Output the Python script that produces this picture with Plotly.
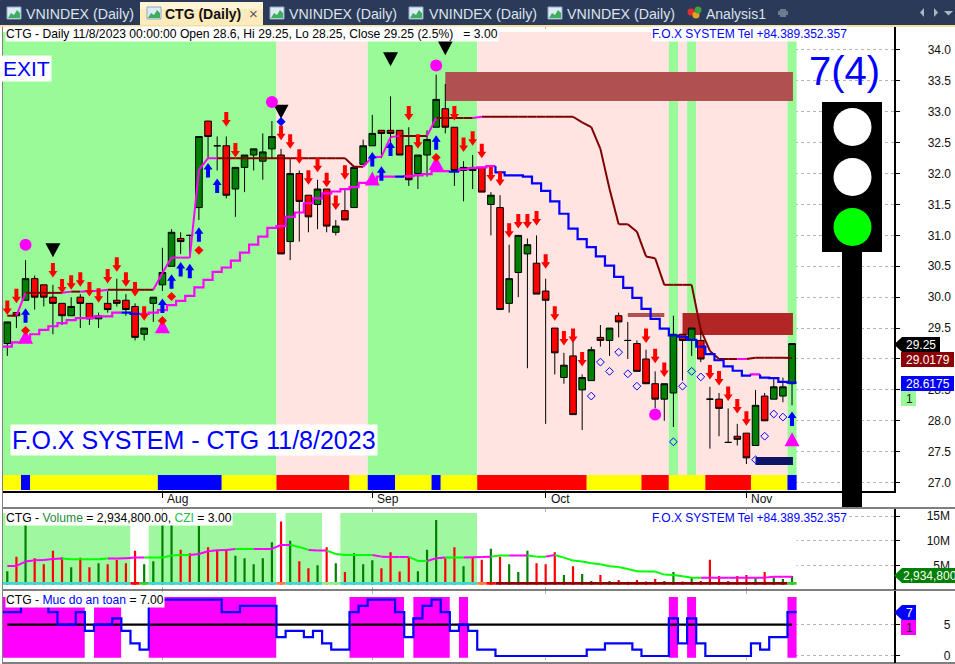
import plotly.graph_objects as go

W, H = 955, 664

# ---------- data ----------
opens = [29.25,29.75,29.95,30.3,30.2,30.0,29.9,29.7,30.0,29.9,29.65,29.9,29.95,29.95,29.85,29.4,29.9,30.2,30.5,30.95,31.0,31.45,32.85,32.45,32.45,31.75,32.1,32.3,32.2,32.4,
         32.3,30.9,32.0,31.65,31.5,31.75,31.05,31.4,31.45,32.15,32.45,32.7,32.7,32.7,32.45,32.0,32.3,32.75,33.05,32.75,32.05,32.1,32.1,31.5,31.45,29.9,30.4,30.7,30.55,30.1,
         29.5,28.7,29.05,28.5,28.65,29.35,29.3,29.7,29.3,29.25,29.0,28.6,28.35,28.45,29.4,29.3,29.3,28.35,28.35,27.65,27.75,27.8,27.6,28.4,28.35,28.4,28.6]
highs = [29.6,29.75,30.6,30.35,30.2,30.2,29.9,30.0,30.05,29.9,29.75,30.1,30.3,30.05,29.9,29.5,30.0,30.8,31.1,31.05,31.0,32.6,32.85,32.6,32.6,32.1,32.3,32.4,32.65,32.85,
         32.4,32.25,32.05,31.65,31.9,31.75,31.25,31.75,32.1,32.55,32.95,32.7,33.25,32.7,32.75,32.3,32.7,33.6,33.45,32.75,32.2,32.3,32.1,31.7,31.65,30.85,31.0,30.95,31.0,30.3,
         29.5,29.1,29.3,28.75,29.2,29.55,29.5,29.75,29.6,29.3,29.15,28.8,28.6,29.7,29.4,29.5,29.5,28.55,28.45,28.2,27.95,27.8,28.5,28.45,28.7,28.7,29.25]
lows = [29.05,29.5,29.95,29.8,29.85,29.4,29.55,29.7,29.5,29.55,29.5,29.75,29.85,29.7,29.3,29.3,29.6,30.1,30.5,30.7,30.65,31.25,32.25,32.05,31.6,31.3,31.7,32.05,31.9,32.25,
        30.7,30.6,30.9,31.05,31.1,31.05,31.0,31.25,31.45,32.15,32.45,32.25,32.45,32.3,31.8,31.75,31.95,32.75,32.65,31.8,31.55,31.75,31.7,31.0,29.8,29.75,30.0,28.85,30.05,27.95,
        28.75,28.6,28.1,27.85,28.65,29.2,29.05,29.35,29.0,28.8,28.6,28.2,28.0,27.9,28.65,29.05,28.95,27.55,27.75,27.65,27.6,27.3,27.6,28.0,28.35,28.3,28.25]
closes = [29.6,29.7,30.3,30.0,30.0,29.9,29.7,29.85,29.9,29.65,29.7,29.8,29.9,29.8,29.35,29.5,30.0,30.4,31.05,30.9,31.0,32.6,32.6,32.45,31.65,32.1,32.3,32.4,32.35,32.6,
          30.7,32.0,31.55,31.3,31.75,31.15,31.15,31.25,32.1,32.45,32.65,32.65,32.65,32.3,31.9,32.3,32.55,33.2,32.75,32.05,32.1,32.05,31.7,31.65,29.8,30.3,31.0,30.85,30.05,29.95,
          29.1,28.9,28.1,28.7,29.15,29.3,29.5,29.6,29.3,28.8,28.6,28.35,28.6,29.4,29.3,29.5,29.0,28.35,28.2,27.65,27.7,27.4,28.25,28.0,28.55,28.55,29.25]
bars = list(range(len(closes)))

upper_line = [29.7,29.7,30.07,30.07,30.07,30.07,30.07,30.09,30.09,30.1,30.1,30.12,30.12,30.12,30.12,30.12,30.12,30.39,30.64,30.64,30.64,32.06,32.25,32.25,32.25,32.25,32.25,32.25,32.25,32.25,
              32.25,32.25,32.25,32.25,32.25,32.25,32.25,32.25,32.11,32.11,32.27,32.27,32.59,32.61,32.61,32.61,32.61,32.9,32.9,32.9,32.9,32.9,32.92,32.92,32.92,32.92,32.92,32.92,32.92,32.92,
              32.92,32.92,32.92,32.83,32.75,32.4,31.75,31.18,31.18,31.06,30.66,30.63,30.2,30.2,30.2,30.2,29.47,29.13,29.0,29.0,29.0,29.0,29.02,29.02,29.02,29.02,29.0179]
upper_magenta = [2,7,9,10,11,17,18,19,20,21,22,23,40,41,42,43,47,52,81]

lower_line = [29.2,29.27,29.3,29.4,29.47,29.53,29.58,29.63,29.66,29.66,29.69,29.69,29.75,29.75,29.73,29.73,29.75,29.79,29.87,29.94,30.02,30.16,30.28,30.41,30.48,30.59,30.72,30.85,30.98,31.12,
              31.15,31.3,31.37,31.52,31.6,31.68,31.71,31.75,31.78,31.85,31.87,31.95,31.95,31.95,31.96,31.97,31.99,32.04,32.04,32.03,32.07,32.09,32.1,32.12,32.02,31.97,31.97,31.95,31.84,31.72,
              31.55,31.35,31.11,30.94,30.81,30.66,30.51,30.33,30.15,29.99,29.81,29.65,29.49,29.38,29.36,29.31,29.2,29.08,28.98,28.88,28.81,28.73,28.75,28.7,28.69,28.63,28.6175]
lower_blue = [13,14,43,49] + [i for i in range(54, 87) if i != 82]

band_state = "G"*30 + "P"*10 + "G"*12 + "P"*21 + "G" + "P" + "G" + "P"*10 + "G"
ribbon_state = "YY" + "B" + "Y"*14 + "B"*7 + "Y"*6 + "R"*8 + "Y"*2 + "B"*3 + "Y"*4 + "B" + "Y"*4 + "R"*12 + "Y"*6 + "R"*3 + "Y"*4 + "R"*5 + "Y"*4 + "B"

sell_bars = [0,1,5,6,7,8,9,10,11,12,13,14,15,24,25,30,31,32,33,34,35,36,37,44,45,49,50,51,52,53,54,55,56,57,58,59,60,61,62,63,70,71,72,77,78,79,80,81]
sell_tips = [29.71,29.9,30.32,30.06,30.12,30.17,30.01,29.91,30.22,30.41,30.17,30.01,29.62,32.76,32.26,32.54,32.4,32.16,31.82,32.02,31.78,31.41,31.9,32.86,32.4,32.86,32.35,32.45,32.25,31.87,31.8,30.96,31.11,31.11,31.16,30.46,29.62,29.22,29.26,28.88,29.26,28.93,28.71,28.67,28.57,28.32,28.12,27.92]
buy_bars = [2,17,18,19,20,21,22,23,40,41,42,47,86]
buy_tips = [29.82,29.98,30.37,30.57,30.54,31.13,32.17,31.92,32.35,32.12,32.52,32.62,28.15]
circle_bars = [2,29,47,71]
circle_vals = [30.85,33.16,33.75,28.1]
tri_up_bars = [2,17,40,47,86]
tri_up_vals = [29.36,29.53,31.92,32.17,27.7]
tri_down_bars = [5,30,42,48]
tri_down_vals = [30.76,33.0,33.85,34.03]
dot_red_bars = [2,17,18,21,47]
dot_red_vals = [29.46,29.62,30.01,30.76,32.26]
dot_blue_bars = [30]
dot_blue_vals = [32.84]
hollow_bars = [64,65,66,67,68,69,73,74,75,76,82,83,84,85]
hollow_vals = [28.4,28.95,28.8,29.11,28.76,28.56,27.66,28.56,28.8,28.71,27.37,27.75,28.11,28.06]
zone_from = [48,74,68,82]
zone_to = [86.1,86.1,72,86.1]
zone_hi = [33.644,29.744,29.744,27.414]
zone_lo = [33.175,29.388,29.68,27.285]
zone_col = ["#B05050","#B22626","#B05050","#0E1466"]

volume = [3.9,6.8,13.2,6.5,5.3,8.0,6.7,4.7,6.6,4.7,5.5,5.3,6.2,5.5,8.0,5.3,5.9,13.2,13.2,8.2,7.5,13.0,8.7,8.2,8.3,7.0,6.5,5.3,6.5,9.7,
          13.9,10.0,5.9,4.5,5.1,8.7,5.5,3.7,7.5,5.3,6.1,4.5,7.7,3.8,6.8,3.9,8.2,14.2,6.5,8.7,4.9,6.7,6.2,8.4,6.8,5.3,3.7,8.0,5.5,5.3,
          7.7,3.1,4.9,3.3,1.9,3.1,1.9,2.1,1.75,2.1,1.8,2.3,1.9,3.7,1.8,2.6,1.9,6.2,2.9,1.9,2.9,3.1,2.5,3.7,2.6,2.3,2.9348]
volume_ma = [4.94,4.94,5.82,6.08,6.15,6.35,6.42,6.29,6.29,6.29,6.29,6.42,6.42,6.49,6.62,6.62,6.62,6.62,7.03,7.16,7.16,7.36,7.9,8.1,8.17,8.37,8.37,8.37,8.37,8.37,
             9.18,9.18,8.77,8.17,8.03,8.03,7.36,7.16,7.16,7.16,7.16,6.82,6.76,6.76,6.76,5.95,5.95,6.49,6.62,6.62,6.62,6.69,6.76,6.82,7.03,7.03,7.03,7.03,6.82,6.82,
             7.16,6.62,6.02,5.82,5.48,5.28,4.87,4.74,4.34,3.87,3.8,3.8,3.2,3.13,2.86,2.59,2.59,2.59,2.59,2.59,2.59,2.59,2.59,2.59,2.79,2.79,2.79]
ma_green = [7,8,9,10,11,16,17,18,19,20,26,27,32,33,36,37,38,39,40,45,46,49,50,54,55,58,59] + list(range(61, 77))
volume_band = "G"*14 + "WW" + "G"*14 + "W" + "G"*4 + "WW" + "G"*15 + "W"*35
volume_ribbon = "T"*14 + "RL" + "T"*14 + "O" + "T"*4 + "EE" + "T"*15 + "OR" + "D"*32 + "L"

safety = [7,7,8,8,8,7,5,5,7,4,5,5,6,4,2,1,9,9,9,9,9,9,9,9,7,7,8,8,8,8,
          3,4,4,3,4,2,1,1,7,8,9,9,9,7,3,6,8,9,7,4,5,4,1,1,0,0,0,0,0,0,
          0,0,0,0,1,1,2,2,2,1,0,0,0,6,2,6,2,0,0,0,0,0,2,1,3,3,7]
safety_line = [5]*len(safety)

month_bars = [17,40,59,81]
month_labels = ["Aug","Sep","Oct","Nov"]
price_ticks = [27+0.5*k for k in range(15)]
volume_ticks = [5,10,15]
safety_ticks = [0,5]

# ---------- colours ----------
BAND = {"G":"#98FB98","P":"#FFE4E1"}
RIB = {"Y":"#FFFF00","B":"#0000FF","R":"#FF0000"}
VBAND = {"G":"#9FF79F","W":"#FFFFFF"}
SBAND = {"M":"#FF00FF","W":"#FFFFFF"}
VRIB = {"T":"#40D8D0","R":"#FF0000","L":"#32CD32","O":"#FF7F40","E":"#90EE90","D":"#8B0000"}
MAROON, MAG, BLUE = "#800000","#FF00FF","#0000FF"
FONT = "Liberation Sans"

# ---------- scales ----------
PPX = 61.8          # px per price unit
BPX = 9.125         # px per bar
XR = [-0.4712, 97.12]

def stairs(vals, keep):
    xs, ys = [], []
    for i, v in enumerate(vals):
        if not keep(i):
            continue
        if i > 0 and not keep(i-1):
            xs += [i-0.5]; ys += [vals[i-1]]
        xs += [i-0.5, i+0.5]; ys += [v, v]
        if not keep(i+1):
            xs.append(None); ys.append(None)
    return xs, ys

def segments(vals, keep):
    xs, ys = [], []
    for i in range(1, len(vals)):
        if keep(i):
            xs += [i-1, i, None]; ys += [vals[i-1], vals[i], None]
    return xs, ys

def arrows(bs, tips, d):
    xs, ys = [], []
    for b, t in zip(bs, tips):
        hw, sw = 4.5/BPX, 2/BPX
        h1, h2 = 6.5/PPX, 14.5/PPX
        s = 1 if d < 0 else -1
        xs += [b, b-hw, b-sw, b-sw, b+sw, b+sw, b+hw, b, None]
        ys += [t, t+s*h1, t+s*h1, t+s*h2, t+s*h2, t+s*h1, t+s*h1, t, None]
    return xs, ys

def triangles(bs, vals, d):
    xs, ys = [], []
    for b, v in zip(bs, vals):
        hw, hh = 7.5/BPX, 7/PPX
        xs += [b-hw, b+hw, b, b-hw, None]
        ys += [v-d*hh, v-d*hh, v+d*hh, v-d*hh, None]
    return xs, ys

def runs(state):
    # merge neighbouring bars of one state into a single block: centre, width, state
    out, start = [], 0
    for i in range(1, len(state)+1):
        if i == len(state) or state[i] != state[start]:
            out.append(((start+i-1)/2, i-start, state[start]))
            start = i
    return out

fig = go.Figure()

def line_trace(x, y, color, width, xa="x", ya="y"):
    fig.add_trace(go.Scatter(x=x, y=y, mode="lines", line=dict(color=color, width=width),
                             connectgaps=False, xaxis=xa, yaxis=ya, hoverinfo="skip", showlegend=False))

def poly_trace(xy, color):
    fig.add_trace(go.Scatter(x=xy[0], y=xy[1], mode="lines", fill="toself", fillcolor=color,
                             line=dict(width=0, color=color), hoverinfo="skip", showlegend=False))

def marker_trace(x, y, symbol, size, color, lw=0):
    fig.add_trace(go.Scatter(x=x, y=y, mode="markers", hoverinfo="skip", showlegend=False,
                             marker=dict(symbol=symbol, size=size, color=color,
                                         line=dict(color=color, width=lw))))

def bar_trace(x, height, base, color, width, xa="x", ya="y"):
    fig.add_trace(go.Bar(x=x, y=height, base=base, width=width, marker=dict(color=color, line=dict(width=0)),
                         xaxis=xa, yaxis=ya, hoverinfo="skip", showlegend=False))

def band_trace(state, palette, lo, hi, xa="x", ya="y"):
    r = runs(state)
    bar_trace([a[0] for a in r], [hi-lo]*len(r), lo, [palette[a[2]] for a in r], [a[1] for a in r], xa, ya)

# ---- price pane
P_BOT, P_TOP = 26.88, 34.291
band_trace(band_state, BAND, P_BOT, P_TOP)
band_trace(ribbon_state, RIB, P_BOT, 27.123)
bar_trace([(a+b)/2 for a, b in zip(zone_from, zone_to)], [h-l for h, l in zip(zone_hi, zone_lo)],
          zone_lo, zone_col, [b-a for a, b in zip(zone_from, zone_to)])
fig.add_trace(go.Candlestick(x=bars, open=opens, high=highs, low=lows, close=closes,
    increasing=dict(line=dict(color="black", width=1), fillcolor="#008000"),
    decreasing=dict(line=dict(color="black", width=1), fillcolor="#FF0000"),
    hoverinfo="skip", showlegend=False))

um = set(upper_magenta)
line_trace(*segments(upper_line, lambda i: i not in um), MAROON, 2)
line_trace(*segments(upper_line, lambda i: i in um), MAG, 2)
lb = set(lower_blue)
n = len(bars)
line_trace(*stairs(lower_line, lambda i: i < n and i not in lb), MAG, 2.2)
line_trace(*stairs(lower_line, lambda i: i < n and i in lb), BLUE, 2.2)

poly_trace(arrows(sell_bars, sell_tips, -1), "#FF0000")
poly_trace(arrows(buy_bars, buy_tips, 1), "#0000FF")
poly_trace(triangles(tri_up_bars, tri_up_vals, 1), MAG)
poly_trace(triangles(tri_down_bars, tri_down_vals, -1), "#000000")
marker_trace(circle_bars, circle_vals, "circle", 12, MAG)
marker_trace(dot_red_bars, dot_red_vals, "diamond", 7, "#FF0000")
marker_trace(dot_blue_bars, dot_blue_vals, "diamond", 7, "#0000FF")
fig.add_trace(go.Scatter(x=hollow_bars, y=hollow_vals, mode="markers", hoverinfo="skip", showlegend=False,
                         marker=dict(symbol="diamond-open", size=6, color="#0000FF", line=dict(width=1, color="#0000FF"))))

# ---- volume pane
V_RIB_LO, V_RIB_HI = 1.18, 1.72
band_trace(volume_band, VBAND, V_RIB_LO, 15.6, "x2", "y2")
vcol = ["#008000" if c > o else "#FF0000" for o, c in zip(opens, closes)]
bar_trace(bars, [v-V_RIB_LO for v in volume], V_RIB_LO, vcol, 0.24, "x2", "y2")
band_trace(volume_ribbon, VRIB, V_RIB_LO, V_RIB_HI, "x2", "y2")
mg = set(ma_green)
line_trace(*segments(volume_ma, lambda i: i not in mg), MAG, 2, "x2", "y2")
line_trace(*segments(volume_ma, lambda i: i in mg), "#00FF00", 2, "x2", "y2")

# ---- safety pane
band_trace(["M" if s >= 5 else "W" for s in safety], SBAND, -0.27, 9.41, "x3", "y3")
line_trace(bars, safety_line, "#000000", 2.4, "x3", "y3")
line_trace(*stairs(safety, lambda i: i < n), BLUE, 2.2, "x3", "y3")

def px(x): return x/W
def py(y): return 1-y/H

def dom_y(top, bot): return [py(bot), py(top)]

dotted = dict(showgrid=True, gridcolor="#B4B4B4", griddash="dot", gridwidth=1, zeroline=False)
xcommon = dict(range=XR, domain=[px(3), px(893.5)], tickmode="array", tickvals=month_bars, **dotted)
ycommon = dict(side="right", showline=True, linecolor="black", linewidth=1.5, ticks="outside", ticklen=5,
               tickcolor="black", tickfont=dict(family=FONT, size=12, color="#111111"), **dotted)

fig.update_layout(
    width=W, height=H, autosize=False, margin=dict(l=0, r=0, t=0, b=0), paper_bgcolor="white", plot_bgcolor="white",
    barmode="overlay", boxgap=0.15, boxgroupgap=0.15, showlegend=False, hovermode=False,
    font=dict(family=FONT, size=12, color="black"),
    xaxis=dict(showticklabels=False, showline=True, linecolor="black", linewidth=1.5, ticks="outside", ticklen=5,
               tickcolor="black", rangeslider=dict(visible=False), anchor="y", **xcommon),
    xaxis2=dict(showticklabels=False, ticks="", anchor="y2", **xcommon),
    xaxis3=dict(showticklabels=False, ticks="", anchor="y3", **xcommon),
    yaxis=dict(domain=dom_y(26, 491), range=[26.864, 34.388], tickmode="array", tickvals=price_ticks,
               ticktext=[f"{t:.1f}" for t in price_ticks], ticklabelstandoff=25, anchor="x", **ycommon),
    yaxis2=dict(domain=dom_y(509, 590), range=[0.1, 16.41], tickmode="array", tickvals=volume_ticks,
                ticktext=["\u00a0\u00a05M", "10M", "15M"], ticklabelstandoff=24, anchor="x2", **ycommon),
    yaxis3=dict(domain=dom_y(591, 663), range=[-1.12, 10.37], tickmode="array", tickvals=safety_ticks,
                ticktext=["0", "5"], ticklabelstandoff=41, anchor="x3", **ycommon),
)

shapes, notes = [], []

def rect(x0, y0, x1, y1, fill, line=None):
    shapes.append(dict(type="rect", xref="paper", yref="paper", x0=px(x0), x1=px(x1), y0=py(y0), y1=py(y1),
                       fillcolor=fill, line=dict(width=0 if line is None else 1, color=line or fill), layer="above"))

def disc(cx, cy, r, fill):
    shapes.append(dict(type="circle", xref="paper", yref="paper", x0=px(cx-r), x1=px(cx+r), y0=py(cy-r), y1=py(cy+r),
                       fillcolor=fill, line=dict(width=0), layer="above"))

def path(points, fill):
    d = "M " + " L ".join(f"{px(a):.5f},{py(b):.5f}" for a, b in points) + " Z"
    shapes.append(dict(type="path", xref="paper", yref="paper", path=d, fillcolor=fill, line=dict(width=0), layer="above"))

def note(x, y, text, size=12, color="black", bg=None, anchor="left", pad=0, bold=False, family=FONT):
    notes.append(dict(x=px(x), y=py(y), xref="paper", yref="paper", text=f"<b>{text}</b>" if bold else text, showarrow=False,
                      xanchor=anchor, yanchor="middle", font=dict(family=family, size=size, color=color),
                      bgcolor=bg, borderpad=pad, align="left"))

# month labels sit just right of their ticks
for b, lab in zip(month_bars, month_labels):
    notes.append(dict(x=b, xref="x", y=py(499), yref="paper", text=lab, showarrow=False, xanchor="left", yanchor="middle",
                      xshift=3, font=dict(family=FONT, size=12, color="#111111")))

# frame lines
for yy in (508, 590, 663):
    rect(2, yy-0.5, 955, yy+0.5, "black")
rect(2, 26, 3, 664, "#808080")

# tab strip
rect(0, 0, 955, 25, "#2B3A58")
rect(0, 25, 955, 27, "#F6DFA0")
rect(140, 2, 263, 25, "#FDEBBD")
rect(140, 2, 263, 9, "#FFF5D6")
tab_icons = [7, 147, 270, 409, 548]
tab_text_x = [25, 288, 428, 566]
for ix in tab_icons:
    rect(ix, 7, ix+14, 19, "#DCEBF7", "#8FA9C6")
    path([(ix+1, 18), (ix+4, 13), (ix+7, 15), (ix+10, 10), (ix+13, 13), (ix+13, 18)], "#3FAE5A")
for tx in tab_text_x:
    note(tx, 14, "VNINDEX (Daily)", 14.2, "#DDE3EC")
note(164, 14, "CTG (Daily)", 14, "#111111", bold=True)
note(254, 13, "\u00d7", 15, "#555555", anchor="center")
disc(691, 12, 3.5, "#E03030"); disc(696, 15, 3.5, "#E8A020"); disc(698, 10, 3.5, "#40A040")
note(705, 14, "Analysis1", 14, "#DDE3EC")
path([(780, 9), (786, 9), (786, 11), (788, 11), (788, 15), (786, 15), (786, 17), (780, 17), (780, 15), (778, 15), (778, 11), (780, 11)], "#6E7A90")
path([(924, 8), (924, 17), (920, 12.5)], "#AEB6C4")
path([(934, 8), (934, 17), (938, 12.5)], "#AEB6C4")
path([(944, 11), (953, 11), (948.5, 15.5)], "#AEB6C4")

# traffic light
rect(842, 250, 862, 507, "black")
rect(822, 102, 882, 252, "black")
disc(852.5, 127, 19, "white")
disc(852.5, 177, 19, "white")
disc(852.5, 227, 19, "#00FF00")

# value tags
path([(894, 344.5), (902, 337), (940, 337), (940, 352), (902, 352)], "black")
rect(901, 352, 954, 367, "#8B0000")
rect(901, 376, 954, 391, "#0000FF")
rect(901, 391, 916, 406, "#98FB98")
path([(894, 575.5), (902, 568), (955, 568), (955, 583), (902, 583)], "#008000")
path([(894, 612.5), (902, 605), (916, 605), (916, 620), (902, 620)], "#0000FF")
rect(901, 620, 916, 635, "#FF00FF")

note(905, 344.5, "29.25", 12, "white")
note(905, 359.5, "29.0179", 12, "white")
note(905, 383.5, "28.6175", 12, "white")
note(905, 398.5, "1", 12, "#222222")
note(902, 575.5, "2,934,800", 12, "white")
note(905, 612.5, "7", 12, "white")
note(905, 627.5, "1", 12, "#222222")

# pane texts
note(5, 34, "CTG - Daily 11/8/2023 00:00:00 Open 28.6, Hi 29.25, Lo 28.25, Close 29.25 (2.5%) &nbsp;&nbsp;= 3.00", 12.15, "black", "white")
note(651, 34, "F.O.X SYSTEM Tel +84.389.352.357", 12, "#0000FF", "white")
note(1, 69, "EXIT", 21, "#0000FF", "white", pad=1)
note(10, 440, "F.O.X SYSTEM - CTG 11/8/2023", 25, "#0000FF", "white", pad=1)
note(844, 71, "7(4)", 40, "#0000FF", anchor="center")
note(5, 518, 'CTG - <span style="color:#1E8C3A">Volume</span> = 2,934,800.00, <span style="color:#22C04A">CZI</span> = 3.00', 12.15, "black", "white")
note(651, 518, "F.O.X SYSTEM Tel +84.389.352.357", 12, "#0000FF", "white")
note(5, 600, 'CTG - <span style="color:#0000FF">Muc do an toan</span> = 7.00', 12.15, "black", "white")

fig.update_layout(shapes=shapes, annotations=notes)
fig.write_html("out.html", config=dict(displayModeBar=False, responsive=False),
               post_script="document.body.style.margin='0';document.body.style.overflow='hidden';")
